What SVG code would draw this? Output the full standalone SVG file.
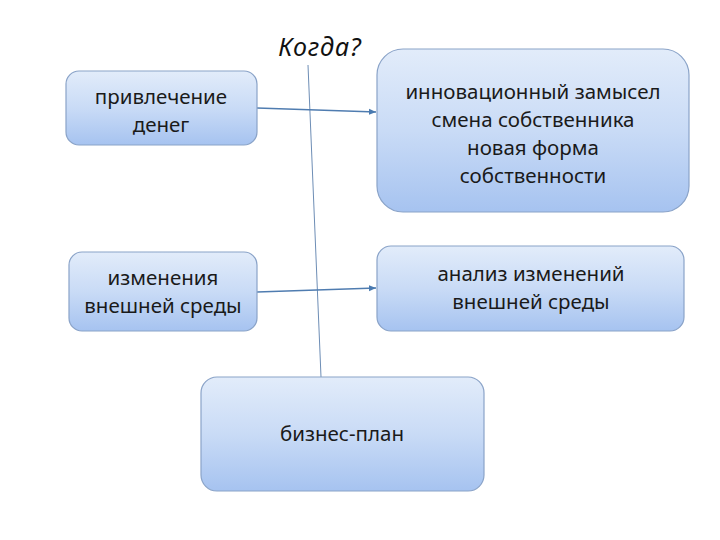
<svg xmlns="http://www.w3.org/2000/svg" width="720" height="540" viewBox="0 0 720 540">
<defs>
<linearGradient id="g" x1="0" y1="0" x2="0" y2="1">
<stop offset="0" stop-color="#e2ecfa"/>
<stop offset="0.5" stop-color="#c9dbf6"/>
<stop offset="1" stop-color="#a6c3f0"/>
</linearGradient>
<marker id="ah" markerWidth="8" markerHeight="8" refX="7" refY="4" orient="auto" markerUnits="userSpaceOnUse">
<path d="M0,1 L7,4 L0,7 Z" fill="#4a7ab0"/>
</marker>
<style>
.box{fill:url(#g);stroke:#8aa3c8;stroke-width:1.2}
.t{font-family:"Noto Sans","Open Sans","Liberation Sans",sans-serif;font-size:20.5px;fill:#1a1a1a;text-anchor:middle}
.c{stroke:#4f7cb0;stroke-width:1.5;fill:none}
</style>
</defs>
<rect width="720" height="540" fill="#fff"/>
<text x="320" y="56" style="font-family:'Noto Sans','Open Sans',sans-serif;font-size:25px;font-style:italic;fill:#111;text-anchor:middle;letter-spacing:1px">Когда?</text>
<g id="connectors">
<path d="M308 65 L321 377" stroke="#6d8db5" stroke-width="1" fill="none"/>
<path class="c" d="M257 108 L376 112" marker-end="url(#ah)"/>
<path class="c" d="M257 292 L376 288" marker-end="url(#ah)"/>
</g>
<g id="n1"><rect class="box" x="66" y="71" width="191" height="74" rx="13"/>
<text class="t" x="161" y="104">привлечение</text><text class="t" x="161" y="132">денег</text></g>
<g id="n2"><rect class="box" x="377" y="49" width="312" height="163" rx="26"/>
<text class="t" x="533" y="99">инновационный замысел</text><text class="t" x="533" y="127">смена собственника</text><text class="t" x="533" y="155">новая форма</text><text class="t" x="533" y="183">собственности</text></g>
<g id="n3"><rect class="box" x="69" y="252" width="188" height="79" rx="13"/>
<text class="t" x="163" y="285">изменения</text><text class="t" x="163" y="313">внешней среды</text></g>
<g id="n4"><rect class="box" x="377" y="246" width="307" height="85" rx="14"/>
<text class="t" x="531" y="281">анализ изменений</text><text class="t" x="531" y="309">внешней среды</text></g>
<g id="n5"><rect class="box" x="201" y="377" width="283" height="114" rx="16"/>
<text class="t" x="342" y="441">бизнес-план</text></g>
</svg>
